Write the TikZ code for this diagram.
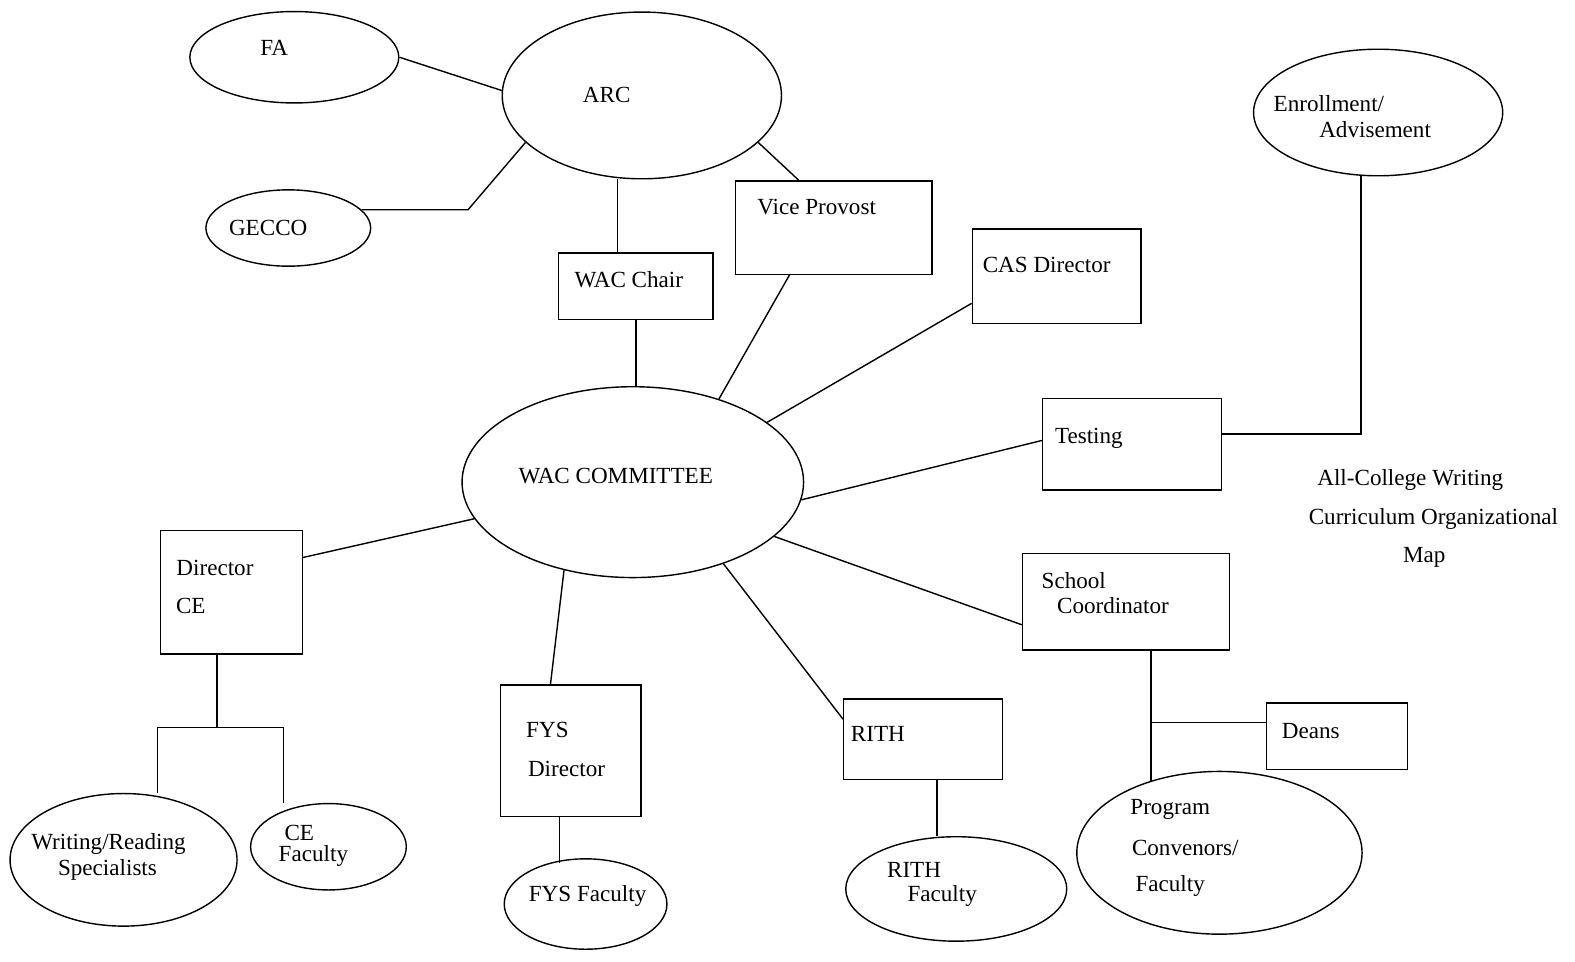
\documentclass[tikz,border=0pt]{standalone}
\usepackage{fontspec}
\setmainfont{Liberation Serif}
\usetikzlibrary{shapes.geometric,calc}
\tikzset{
  link/.style={draw=black,line width=0.7pt},
  oval/.style={ellipse,draw=black,line width=0.7pt,inner sep=0pt},
  box/.style={rectangle,draw=black,line width=0.7pt,inner sep=0pt},
  lbl/.style={inner sep=0pt,anchor=center,font=\fontsize{11.5}{13}\selectfont}
}
\begin{document}
\begin{tikzpicture}[x=0.5pt,y=-0.5pt]
\useasboundingbox (0,0) rectangle (1568,957);
% ellipses
\node[oval,minimum width=104pt,minimum height=45.5pt] (fa) at (293,57) {};
\node[oval,minimum width=139pt,minimum height=83pt] (arc) at (639,95) {};
\node[oval,minimum width=82pt,minimum height=38pt] (gecco) at (287,227) {};
\node[oval,minimum width=124pt,minimum height=63pt] (enroll) at (1372,112) {};
\node[oval,minimum width=170pt,minimum height=95pt] (wac) at (630,480) {};
\node[oval,minimum width=113pt,minimum height=66pt] (wrs) at (123,856) {};
\node[oval,minimum width=77.5pt,minimum height=43pt] (cefac) at (327,843) {};
\node[oval,minimum width=81pt,minimum height=45pt] (fysfac) at (583,900) {};
\node[oval,minimum width=110pt,minimum height=52pt] (rithfac) at (952,885) {};
\node[oval,minimum width=142pt,minimum height=81pt] (prog) at (1214,849) {};
% boxes
\node[box,minimum width=77pt,minimum height=33pt] (wacchair) at (633,285) {};
\node[box,minimum width=98pt,minimum height=46.5pt] (vp) at (830,226.5) {};
\node[box,minimum width=84pt,minimum height=47pt] (cas) at (1052,275) {};
\node[box,minimum width=89pt,minimum height=45.5pt] (testing) at (1127,442.5) {};
\node[box,minimum width=70.5pt,minimum height=61.5pt] (dirce) at (230.5,589.5) {};
\node[box,minimum width=103pt,minimum height=48pt] (school) at (1121,599) {};
\node[box,minimum width=70pt,minimum height=65.5pt] (fys) at (568,747.5) {};
\node[box,minimum width=79pt,minimum height=40pt] (rith) at (919,736) {};
\node[box,minimum width=70pt,minimum height=33pt] (deans) at (1331,733) {};
% texts
\node[lbl] (tfa) at (273,48) {FA};
\node[lbl] (tarc) at (604,95) {ARC};
\node[lbl] (tgecco) at (267,227) {GECCO};
\node[lbl] (twacchair) at (626,278) {WAC Chair};
\node[lbl] (tvp) at (813,206) {Vice Provost};
\node[lbl] (tcas) at (1042,264) {CAS Director};
\node[lbl] (tenr1) at (1323,103) {Enrollment/};
\node[lbl] (tenr2) at (1369,129) {Advisement};
\node[lbl] (twac) at (613,474) {WAC COMMITTEE};
\node[lbl] (ttest) at (1084,436) {Testing};
\node[lbl] (tmap1) at (1404,478) {All-College Writing};
\node[lbl] (tmap2) at (1427,517) {Curriculum Organizational};
\node[lbl] (tmap3) at (1418,555) {Map};
\node[lbl] (tdir1) at (214,565) {Director};
\node[lbl] (tdir2) at (190,603) {CE};
\node[lbl] (tsch1) at (1069,578) {School};
\node[lbl] (tsch2) at (1108,603) {Coordinator};
\node[lbl] (tfys1) at (545,727) {FYS};
\node[lbl] (tfys2) at (564,766) {Director};
\node[lbl] (trith) at (874,731) {RITH};
\node[lbl] (tdeans) at (1305,728) {Deans};
\node[lbl] (twrs1) at (108,840) {Writing/Reading};
\node[lbl] (twrs2) at (107,866) {Specialists};
\node[lbl] (tcef1) at (298,829) {CE};
\node[lbl] (tcef2) at (312,852) {Faculty};
\node[lbl] (tfysf) at (585,892) {FYS Faculty};
\node[lbl] (trf1) at (910,866) {RITH};
\node[lbl] (trf2) at (938,892) {Faculty};
\node[lbl] (tpr1) at (1165,806) {Program};
\node[lbl] (tpr2) at (1180,844) {Convenors/};
\node[lbl] (tpr3) at (1165,882) {Faculty};
% helper coordinates
\coordinate (gbend) at (466,208);
\coordinate (cebr) at (216,724);
\coordinate (cebrL) at (157,724);
\coordinate (cebrR) at (282,724);
\coordinate (schooljoin) at ([xshift=12.5pt]school.south);
% connectors
\draw[link] (fa.east) -- (arc.178);
\draw[link] (gecco.14) -- (gecco.14 -| gbend) -- (arc.202);
\draw[link] ([xshift=-9pt]wacchair.north) -- ([xshift=-9pt]wacchair.north |- arc.south);
\draw[link] (arc.338) -- ([xshift=-17.5pt]vp.north);
\draw[link] (wacchair.south) -- (wacchair.south |- wac.north);
\draw[link] ([xshift=-22pt]vp.south) -- (wac.44);
\draw[link] ([yshift=-13.5pt]cas.west) -- (wac.24);
\draw[link] ([yshift=2pt]testing.west) -- (wac.-6);
\draw[link] ([yshift=5.25pt]testing.east) -| ([xshift=-8.5pt]enroll.south);
\draw[link] (wac.-21) -- ([yshift=-11.5pt]school.west);
\draw[link] (wac.-42) -- ([yshift=10pt]rith.west);
\draw[link] (wac.232) -- ([xshift=-10pt]fys.north);
\draw[link] (wac.193) -- ([yshift=17.25pt]dirce.east);
\draw[link] (dirce.south -| cebr) -- (cebr);
\draw[link] (cebrL |- wrs.north) -- (cebrL) -- (cebrR) -- (cebrR |- cefac.north);
\draw[link] ([xshift=-5.5pt]fys.south) -- ([xshift=-5.5pt,yshift=-2.5pt]fys.south |- fysfac.north);
\draw[link] ([xshift=7pt]rith.south) -- ([xshift=7pt]rith.south |- rithfac.north);
\draw[link] (schooljoin) -- (schooljoin |- prog.134);
\draw[link] ([yshift=7pt]deans.west) -- ([yshift=7pt]deans.west -| schooljoin);
\end{tikzpicture}
\end{document}
